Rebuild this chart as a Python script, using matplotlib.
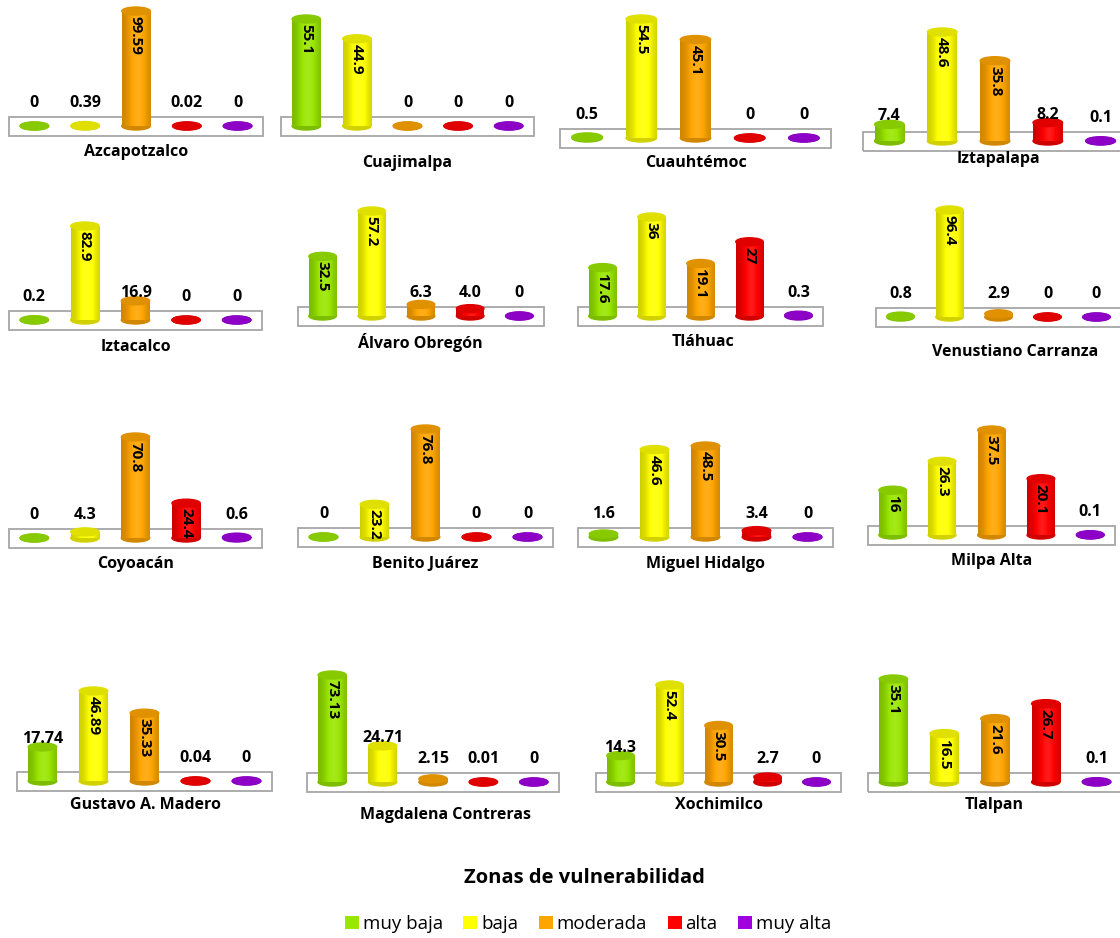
import matplotlib
matplotlib.use("Agg")
import numpy as np
import matplotlib.pyplot as plt
from matplotlib.colors import to_rgb
from matplotlib.patches import Ellipse, Rectangle, Patch

plt.rcParams["font.family"] = ["Open Sans", "DejaVu Sans"]

ZONES = ["muy baja", "baja", "moderada", "alta", "muy alta"]
ZONE_COLORS = ["#99e600", "#ffff00", "#ffa500", "#ff0000", "#a000e0"]

DISTRICTS = [
    "Azcapotzalco", "Cuajimalpa", "Cuauhtémoc", "Iztapalapa",
    "Iztacalco", "Álvaro Obregón", "Tláhuac", "Venustiano Carranza",
    "Coyoacán", "Benito Juárez", "Miguel Hidalgo", "Milpa Alta",
    "Gustavo A. Madero", "Magdalena Contreras", "Xochimilco", "Tlalpan",
]

# percentage per zone, written as the chart shows them
VALUE_LABELS = [
    ["0", "0.39", "99.59", "0.02", "0"],
    ["55.1", "44.9", "0", "0", "0"],
    ["0.5", "54.5", "45.1", "0", "0"],
    ["7.4", "48.6", "35.8", "8.2", "0.1"],
    ["0.2", "82.9", "16.9", "0", "0"],
    ["32.5", "57.2", "6.3", "4.0", "0"],
    ["17.6", "36", "19.1", "27", "0.3"],
    ["0.8", "96.4", "2.9", "0", "0"],
    ["0", "4.3", "70.8", "24.4", "0.6"],
    ["0", "23.2", "76.8", "0", "0"],
    ["1.6", "46.6", "48.5", "3.4", "0"],
    ["16", "26.3", "37.5", "20.1", "0.1"],
    ["17.74", "46.89", "35.33", "0.04", "0"],
    ["73.13", "24.71", "2.15", "0.01", "0"],
    ["14.3", "52.4", "30.5", "2.7", "0"],
    ["35.1", "16.5", "21.6", "26.7", "0.1"],
]

# panel layout on the 1120x938 canvas (pixels): floor box left/right,
# baseline y and y of the tallest cylinder, title position
W_PX, H_PX = 1120, 938
BOX_X = [(9, 263), (281, 534), (560, 831), (863, 1127),
         (9, 262), (298, 544), (578, 823), (876, 1121),
         (9, 262), (298, 553), (578, 833), (868, 1115),
         (17, 272), (307, 559), (596, 841), (868, 1122)]
BASE_TOP = [(126, 11), (126, 19), (138, 19), (141, 32),
            (320, 226), (316, 211), (316, 217), (317, 210),
            (538, 437), (537, 429), (537, 446), (535, 430),
            (781, 691), (782, 675), (782, 685), (782, 679)]
TITLE_XY = [(136, 152), (407, 163), (696, 163), (998, 159),
            (136, 347), (420, 342), (703, 342), (1015, 352),
            (136, 564), (425, 564), (705, 564), (992, 561),
            (146, 805), (445, 815), (719, 805), (994, 805)]

BAR_W = 0.56
ELL_PX = 8


def shade(rgb, f):
    if f <= 1:
        return rgb * f
    return rgb + (1 - rgb) * (f - 1)


def draw_cylinder(ax, x, v, color, ppu):
    rgb = np.array(to_rgb(color))
    eh = ELL_PX / ppu
    ax.add_patch(Ellipse((x, 0), BAR_W, eh, color=shade(rgb, 0.82),
                         zorder=2, clip_on=False))
    if v * ppu > 0.5:
        t = np.linspace(0, 1, 40)
        prof = 0.80 + 0.30 * np.exp(-((t - 0.55) / 0.32) ** 2)
        grad = np.array([shade(rgb, f) for f in prof])
        ax.imshow(grad[None, :, :], extent=(x - BAR_W / 2, x + BAR_W / 2, 0, v),
                  aspect="auto", interpolation="bilinear", zorder=3, clip_on=False)
    ax.add_patch(Ellipse((x, v), BAR_W, eh, color=shade(rgb, 0.88),
                         zorder=4, clip_on=False))


fig = plt.figure(figsize=(W_PX / 100, H_PX / 100), dpi=100)

for i, name in enumerate(DISTRICTS):
    labels = VALUE_LABELS[i]
    vals = [float(s) for s in labels]
    x0, x1 = BOX_X[i]
    base, top = BASE_TOP[i]
    ymax = max(vals)
    ppu = (base - top) / ymax
    ax = fig.add_axes([x0 / W_PX, 1 - base / H_PX, (x1 - x0) / W_PX, (base - top) / H_PX])
    ax.axis("off")

    ax.add_patch(Rectangle((-0.5, -10 / ppu), 5, 19 / ppu, fill=False,
                           edgecolor="#a6a6a6", lw=1.3, zorder=1, clip_on=False))

    for j, (v, txt) in enumerate(zip(vals, labels)):
        draw_cylinder(ax, j, v, ZONE_COLORS[j], ppu)
        h_px = v * ppu
        if h_px >= len(txt) * 7 + 4:
            ax.annotate(txt, (j, v), xytext=(0, -5), textcoords="offset pixels",
                        rotation=-90, ha="center", va="top", fontsize=11,
                        fontweight="bold", zorder=5, annotation_clip=False)
        else:
            ax.annotate(txt, (j, 0), xytext=(0, max(23, h_px + 8)),
                        textcoords="offset pixels", ha="center", va="center",
                        fontsize=11.5, fontweight="bold", zorder=5,
                        annotation_clip=False)

    ax.set_xlim(-0.5, 4.5)
    ax.set_ylim(0, ymax)

    tx, ty = TITLE_XY[i]
    fig.text(tx / W_PX, 1 - ty / H_PX, name, ha="center", va="center",
             fontsize=11.5, fontweight="bold")

fig.text(584 / W_PX, 1 - 878 / H_PX, "Zonas de vulnerabilidad", ha="center",
         va="center", fontsize=14.5, fontweight="bold")

handles = [Patch(facecolor=c, edgecolor="none") for c in ZONE_COLORS]
fig.legend(handles, ZONES, loc="center", bbox_to_anchor=(588 / W_PX, 1 - 924 / H_PX),
           ncol=5, frameon=False, fontsize=13.5, handlelength=0.75, handleheight=0.75,
           handletextpad=0.2, columnspacing=1.1)

fig.savefig("out.png", dpi=100)
